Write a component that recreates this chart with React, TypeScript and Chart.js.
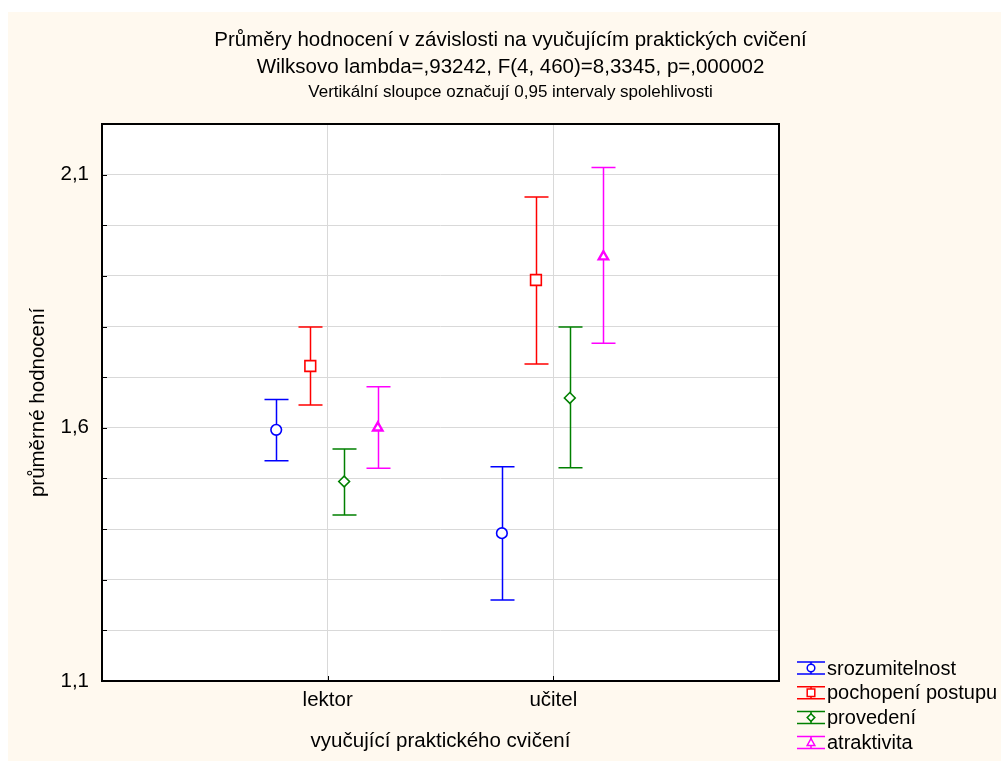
import React, { useEffect, useRef } from 'react';
import { Chart, registerables } from 'chart.js';

Chart.register(...registerables);

// ---------- data ----------
const categories = ['lektor', 'učitel'];
const seriesNames = ['srozumitelnost', 'pochopení postupu', 'provedení', 'atraktivita'];

const srozumitelnostMean = [1.596, 1.392];
const srozumitelnostLow = [1.535, 1.260];
const srozumitelnostHigh = [1.656, 1.523];

const pochopeniMean = [1.722, 1.892];
const pochopeniLow = [1.645, 1.726];
const pochopeniHigh = [1.799, 2.056];

const provedeniMean = [1.494, 1.659];
const provedeniLow = [1.428, 1.521];
const provedeniHigh = [1.558, 1.799];

const atraktivitaMean = [1.600, 1.938];
const atraktivitaLow = [1.520, 1.767];
const atraktivitaHigh = [1.681, 2.114];

const yTickValues = [1.1, 1.6, 2.1];
const yTickLabels = ['1,1', '1,6', '2,1'];

const titleLines = [
  'Průměry hodnocení v závislosti na vyučujícím praktických cvičení',
  'Wilksovo lambda=,93242, F(4, 460)=8,3345, p=,000002',
];
const subtitleText = 'Vertikální sloupce označují 0,95 intervaly spolehlivosti';
const yAxisTitle = 'průměrné hodnocení';
const xAxisTitle = 'vyučující praktického cvičení';

// ---------- styles ----------
const FONT = "'Liberation Sans', Arial, sans-serif";
const means = [srozumitelnostMean, pochopeniMean, provedeniMean, atraktivitaMean];
const lows = [srozumitelnostLow, pochopeniLow, provedeniLow, atraktivitaLow];
const highs = [srozumitelnostHigh, pochopeniHigh, provedeniHigh, atraktivitaHigh];
const colors = ['#0000ff', '#ff0000', '#008000', '#ff00ff'];
const pointStyles = ['circle', 'rect', 'rectRot', 'triangle'];
const pointRadii = [5.3, 7.6, 5.4, 5.4];
const pointBorders = [1.6, 1.6, 1.6, 2.4];
const seriesOffsets = [-0.228, -0.077, 0.073, 0.222];
const CAP_HALF = 12;

function drawMarker(ctx: CanvasRenderingContext2D, style: string, x: number, y: number, s: number) {
  ctx.beginPath();
  if (style === 'circle') {
    ctx.arc(x, y, s, 0, Math.PI * 2);
  } else if (style === 'rect') {
    ctx.rect(x - s, y - s, 2 * s, 2 * s);
  } else if (style === 'rectRot') {
    ctx.moveTo(x, y - s);
    ctx.lineTo(x + s, y);
    ctx.lineTo(x, y + s);
    ctx.lineTo(x - s, y);
    ctx.closePath();
  } else {
    ctx.moveTo(x, y - s);
    ctx.lineTo(x + s, y + s * 0.8);
    ctx.lineTo(x - s, y + s * 0.8);
    ctx.closePath();
  }
  ctx.fill();
  ctx.stroke();
}

const statPlugin = {
  id: 'statPlot',
  beforeDraw(chart: any) {
    const { ctx, chartArea: a } = chart;
    ctx.save();
    ctx.fillStyle = '#ffffff';
    ctx.fillRect(a.left, a.top, a.right - a.left, a.bottom - a.top);
    ctx.restore();
  },
  beforeDatasetsDraw(chart: any) {
    const { ctx } = chart;
    const xs = chart.scales.x;
    const ys = chart.scales.y;
    ctx.save();
    ctx.lineWidth = 1.5;
    for (let i = 0; i < means.length; i++) {
      ctx.strokeStyle = colors[i];
      for (let j = 0; j < categories.length; j++) {
        const px = Math.round(xs.getPixelForValue(j + 1 + seriesOffsets[i])) + 0.5;
        const yh = ys.getPixelForValue(highs[i][j]);
        const yl = ys.getPixelForValue(lows[i][j]);
        ctx.beginPath();
        ctx.moveTo(px, yh);
        ctx.lineTo(px, yl);
        ctx.moveTo(px - CAP_HALF, yh);
        ctx.lineTo(px + CAP_HALF, yh);
        ctx.moveTo(px - CAP_HALF, yl);
        ctx.lineTo(px + CAP_HALF, yl);
        ctx.stroke();
      }
    }
    ctx.restore();
  },
  afterDraw(chart: any) {
    const { ctx, chartArea: a } = chart;
    const xs = chart.scales.x;
    const ys = chart.scales.y;
    ctx.save();
    // frame
    ctx.strokeStyle = '#000';
    ctx.lineWidth = 2;
    ctx.strokeRect(a.left, a.top, a.right - a.left, a.bottom - a.top);
    // inner tick marks
    ctx.lineWidth = 1;
    ctx.beginPath();
    ys.ticks.forEach((t: any) => {
      const py = Math.round(ys.getPixelForValue(t.value)) + 0.5;
      ctx.moveTo(a.left, py);
      ctx.lineTo(a.left + 5, py);
    });
    xs.ticks.forEach((t: any) => {
      const px = Math.round(xs.getPixelForValue(t.value)) + 0.5;
      ctx.moveTo(px, a.bottom);
      ctx.lineTo(px, a.bottom - 5);
    });
    ctx.stroke();

    // legend
    const lx = a.right + 18;
    const ly0 = a.bottom - 13;
    const step = 24.8;
    ctx.font = `20px ${FONT}`;
    ctx.textBaseline = 'middle';
    ctx.textAlign = 'left';
    for (let i = 0; i < seriesNames.length; i++) {
      const cy = ly0 + i * step;
      const cx = lx + 14;
      ctx.strokeStyle = colors[i];
      ctx.lineWidth = 1.5;
      ctx.beginPath();
      ctx.moveTo(lx, cy - 6);
      ctx.lineTo(lx + 28, cy - 6);
      ctx.moveTo(lx, cy + 6);
      ctx.lineTo(lx + 28, cy + 6);
      ctx.moveTo(cx, cy - 6);
      ctx.lineTo(cx, cy + 6);
      ctx.stroke();
      ctx.fillStyle = '#ffffff';
      drawMarker(ctx, pointStyles[i], cx, cy, 3.8);
      ctx.fillStyle = '#000';
      ctx.fillText(seriesNames[i], lx + 30, cy + 1);
    }
    ctx.restore();
  },
};

export default function App() {
  const canvasRef = useRef<HTMLCanvasElement | null>(null);

  useEffect(() => {
    if (!canvasRef.current) return;
    const datasets = seriesNames.map((name, i) => ({
      label: name,
      data: categories.map((_, j) => ({ x: j + 1 + seriesOffsets[i], y: means[i][j] })),
      showLine: false,
      pointStyle: pointStyles[i],
      pointRadius: pointRadii[i],
      pointHoverRadius: pointRadii[i],
      pointBorderWidth: pointBorders[i],
      borderColor: colors[i],
      backgroundColor: '#ffffff',
      pointBackgroundColor: '#ffffff',
      pointBorderColor: colors[i],
    }));

    const chart = new Chart(canvasRef.current, {
      type: 'scatter',
      data: { datasets },
      plugins: [statPlugin],
      options: {
        animation: false,
        responsive: true,
        maintainAspectRatio: false,
        layout: { padding: { left: 12, right: 0, top: 0, bottom: 0 } },
        plugins: {
          legend: { display: false },
          tooltip: { enabled: false },
          title: {
            display: true,
            text: titleLines,
            color: '#000',
            font: { family: FONT, size: 20.5, weight: 'normal', lineHeight: '27px' },
            padding: { top: 14.5, bottom: 0 },
          },
          subtitle: {
            display: true,
            text: subtitleText,
            color: '#000',
            font: { family: FONT, size: 17, weight: 'normal', lineHeight: '16px' },
            padding: { top: 3.5, bottom: 24 },
          },
        },
        scales: {
          x: {
            type: 'linear',
            min: 0,
            max: 3,
            afterBuildTicks: (s: any) => {
              s.ticks = categories.map((_, i) => ({ value: i + 1 }));
            },
            afterFit: (s: any) => {
              s.height = 80;
            },
            grid: { color: '#d9d9d9', lineWidth: 1, drawTicks: false },
            border: { display: false },
            ticks: {
              autoSkip: false,
              maxRotation: 0,
              padding: 7,
              color: '#000',
              font: { family: FONT, size: 20.5 },
              callback: (v: any) => categories[Math.round(Number(v)) - 1] ?? '',
            },
            title: {
              display: true,
              text: xAxisTitle,
              color: '#000',
              font: { family: FONT, size: 20.5 },
              padding: { top: 0, bottom: 7.7 },
            },
          },
          y: {
            type: 'linear',
            min: 1.1,
            max: 2.2,
            afterFit: (s: any) => {
              s.width = 82;
            },
            grid: { color: '#d9d9d9', lineWidth: 1, drawTicks: false },
            border: { display: false },
            ticks: {
              stepSize: 0.1,
              autoSkip: false,
              padding: 13,
              color: '#000',
              font: { family: FONT, size: 20.5 },
              callback: (v: any) => {
                const idx = yTickValues.findIndex((t) => Math.abs(t - Number(v)) < 1e-6);
                return idx >= 0 ? yTickLabels[idx] : '';
              },
            },
            title: {
              display: true,
              text: yAxisTitle,
              color: '#000',
              font: { family: FONT, size: 20.5 },
              padding: { top: 5.7, bottom: 0 },
            },
          },
          yRight: {
            type: 'linear',
            position: 'right',
            display: true,
            afterFit: (s: any) => {
              s.width = 222;
            },
            grid: { display: false, drawOnChartArea: false, drawTicks: false },
            border: { display: false },
            ticks: { display: false },
          },
        },
      } as any,
    });
    return () => chart.destroy();
  }, []);

  return (
    <div
      style={{
        position: 'fixed',
        left: 8,
        top: 12,
        width: 993,
        height: 749,
        background: '#FFF9EF',
      }}
    >
      <canvas ref={canvasRef} />
    </div>
  );
}
